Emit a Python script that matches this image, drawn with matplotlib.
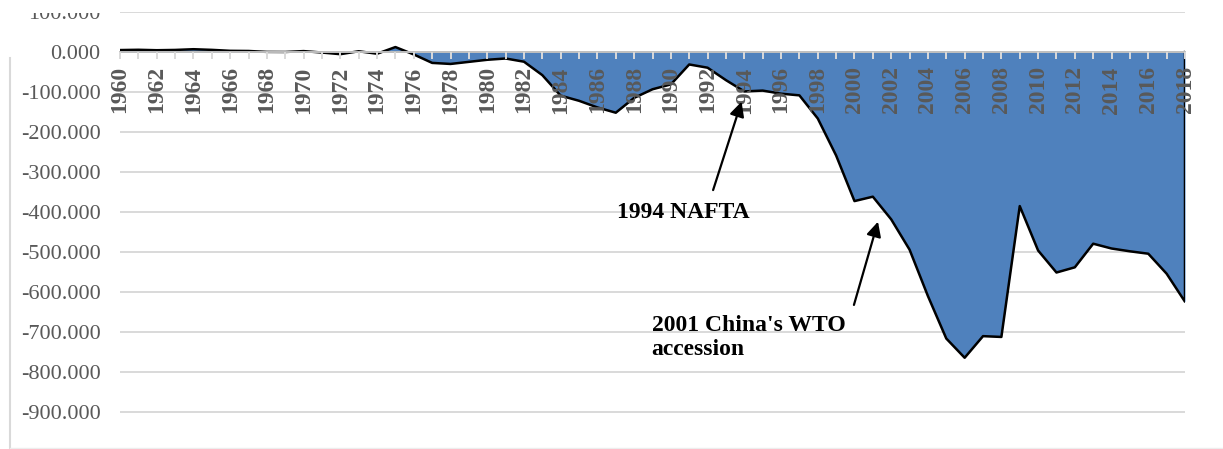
import numpy as np
import matplotlib
matplotlib.use("Agg")
from matplotlib import pyplot as plt
from matplotlib.lines import Line2D
from matplotlib.patches import Rectangle

# US trade balance
years = list(range(1960, 2019))
balance = [4.9, 5.6, 4.5, 5.2, 7.0, 5.4, 3.0, 2.6, 0.3, 0.1,
           2.3, -1.3, -5.4, 1.9, -4.3, 12.4, -6.1, -27.2, -29.8, -24.6,
           -19.4, -16.2, -24.2, -57.8, -109.1, -121.9, -138.5, -151.7, -114.6, -93.1,
           -80.9, -31.1, -39.2, -70.3, -98.5, -96.4, -104.1, -108.3, -166.1, -258.6,
           -372.5, -361.5, -418.2, -493.9, -609.9, -716.0, -764.0, -710.0, -712.0, -385.0,
           -496.0, -551.0, -538.0, -479.0, -491.0, -498.0, -504.0, -554.0, -624.0]
ytick_values = list(range(100, -1000, -100))
xlabel_years = list(range(1960, 2019, 2))

W, H = 1223, 449
fig = plt.figure(figsize=(W / 100, H / 100), dpi=100)
ax = fig.add_axes([120 / W, 0, 1065 / W, 437 / H])

blue = "#4F81BD"
grey_txt = "#595959"

ax.fill_between(years, balance, 0, color=blue, lw=0, zorder=1)
# outline: top line plus the closing edge at the last year
ax.plot(years + [years[-1]], balance + [0], color="black", lw=1.8, zorder=2)

for v in ytick_values:
    ax.axhline(v, color="#D9D9D9", lw=1.4, zorder=0.3)

ax.set_xlim(1960, 2018)
ax.set_ylim(-992, 100)
ax.set_axisbelow(False)

for s in ["top", "right", "left"]:
    ax.spines[s].set_visible(False)
ax.spines["bottom"].set_position(("data", 0))
ax.spines["bottom"].set_color("#BFBFBF")
ax.spines["bottom"].set_linewidth(1.4)

ax.set_xticks(years, minor=True)
ax.set_xticks(xlabel_years)
ax.set_xticklabels([str(y) for y in xlabel_years], rotation=90,
                   fontfamily="Liberation Serif", fontweight="bold",
                   fontsize=17, color=grey_txt)
ax.tick_params(axis="x", which="both", direction="out", length=5,
               color="#D9D9D9", width=1.4, pad=5.3)

ax.set_yticks(ytick_values)
ax.set_yticklabels(["{:.3f}".format(v) for v in ytick_values],
                   fontfamily="Liberation Serif", fontsize=16, color=grey_txt)
ax.tick_params(axis="y", length=0, pad=14)

bold = dict(fontfamily="Liberation Serif", fontweight="bold", fontsize=17, color="black")
ax.text(1987.07, -402, "1994 NAFTA", ha="left", va="center", **bold)
ax.text(1988.95, -713, "2001 China's WTO\naccession", ha="left", va="center",
        linespacing=1.2, **bold)

arrow = dict(arrowstyle="-|>", color="black", lw=1.6, mutation_scale=22, shrinkA=0, shrinkB=0)
ax.annotate("", xy=(1993.85, -124), xytext=(1992.3, -345), arrowprops=arrow)
ax.annotate("", xy=(2001.28, -424), xytext=(1999.97, -632), arrowprops=arrow)

# chart-area border bits and the cropped top of the first label
fig.add_artist(Line2D([10 / W, 10 / W], [0, 1 - 58 / H], transform=fig.transFigure,
                      color="#D9D9D9", lw=1.5))
fig.add_artist(Line2D([10 / W, 1], [1.5 / H, 1.5 / H], transform=fig.transFigure,
                      color="#EDEDED", lw=1.0))
fig.add_artist(Rectangle((0, 1 - 13 / H), 115 / W, 13 / H, transform=fig.transFigure,
                         facecolor="white", edgecolor="none", zorder=10))

fig.savefig("out.png", dpi=100)
